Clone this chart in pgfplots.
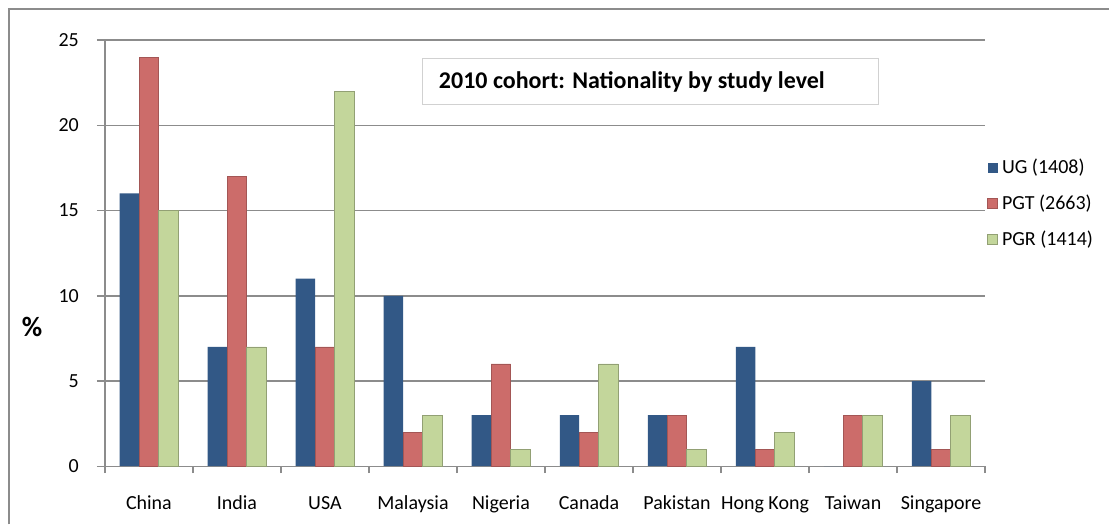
\documentclass[border=0pt]{standalone}
\usepackage{fontspec}
\setmainfont{Carlito}
\usepackage{pgfplots}
\pgfplotsset{compat=1.18}
\definecolor{ug}{HTML}{325886}
\definecolor{pgt}{HTML}{CC6C6A}
\definecolor{pgr}{HTML}{C3D69B}
\definecolor{gridc}{HTML}{8C8C8C}

\begin{document}
\begin{tikzpicture}
\begin{axis}[
  scale only axis, width=440.5pt, height=213.3pt,
  ybar=0pt, bar width=9.75pt,
  xmin=-0.5, xmax=9.5, ymin=0, ymax=25,
  xtick={0,...,9},
  xticklabels={China,India,USA,Malaysia,Nigeria,Canada,Pakistan,Hong Kong,Taiwan,Singapore},
  minor xtick={-0.5,0.5,...,9.5},
  ytick={0,5,...,25},
  axis x line*=bottom, axis y line*=left,
  axis line style={gridc, line width=0.75pt, -},
  tick align=outside,
  major tick length=4pt, minor tick length=3.5pt,
  major x tick style={draw=none},
  minor x tick style={gridc, line width=0.75pt},
  y tick style={gridc, line width=0.75pt},
  ymajorgrids, grid style={gridc, line width=0.75pt},
  tick label style={font=\fontsize{10}{12}\selectfont},
  xticklabel style={anchor=base, yshift=-17.5pt},
  yticklabel style={xshift=-5.5pt},
  /pgf/number format/assume math mode=true,
  legend style={at={(1.0,0.616)}, anchor=west, draw=none, fill=none,
    font=\fontsize{10}{12}\selectfont, row sep=5pt, inner sep=1pt},
  legend cell align=left,
  legend image code/.code={\fill[#1] (0pt,-2.5pt) rectangle (5pt,2.5pt);},
]
\addplot[fill=ug, draw=none]
  coordinates {(0,16)(1,7)(2,11)(3,10)(4,3)(5,3)(6,3)(7,7)(8,0)(9,5)};
\addlegendentry{UG (1408)}
\addplot[fill=pgt, draw=pgt!80!black, line width=0.3pt]
  coordinates {(0,24)(1,17)(2,7)(3,2)(4,6)(5,2)(6,3)(7,1)(8,3)(9,1)};
\addlegendentry{PGT (2663)}
\addplot[fill=pgr, draw=pgr!75!black, line width=0.3pt]
  coordinates {(0,15)(1,7)(2,22)(3,3)(4,1)(5,6)(6,1)(7,2)(8,3)(9,3)};
\addlegendentry{PGR (1414)}
\coordinate (SW) at (rel axis cs:0,0);
\end{axis}

% page frame, in px of the 1110 x 525 picture (1px = 0.5pt), origin at bottom left
\begin{scope}[shift={(SW)}]
\begin{scope}[x=0.5pt, y=0.5pt, shift={(-105,-58.3)}]
\path (0,0) rectangle (1110,525);
\draw[gridc, line width=1.1pt] (9,0) -- (9,516);
\draw[gridc, line width=1.1pt] (8,516) -- (1110,516);
\draw[fill=white, draw=black!18, line width=0.5pt] (423,420) rectangle (879,466);
\node[anchor=base west, inner sep=0pt, font=\fontsize{12}{14}\selectfont\bfseries] at (439,436.5)
  {2010 cohort: Nationality by study level};
\node[font=\fontsize{14}{16}\selectfont\bfseries] at (32,198) {\%};
\end{scope}
\end{scope}
\end{tikzpicture}
\end{document}
